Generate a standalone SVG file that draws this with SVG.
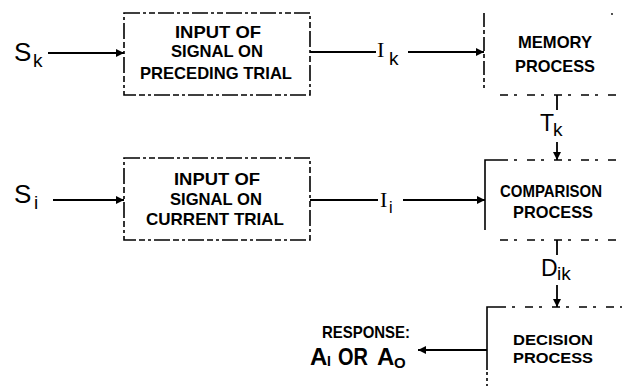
<svg xmlns="http://www.w3.org/2000/svg" width="622" height="386" viewBox="0 0 622 386">
<style>
.bx{fill:none;stroke:#000;stroke-width:1.6;stroke-dasharray:16 3 3 3 6 3}
.ed{fill:none;stroke:#000;stroke-width:1.6}
.dsh{fill:none;stroke:#000;stroke-width:1.6;stroke-dasharray:8 6 3 10}
.ln{fill:none;stroke:#000;stroke-width:1.8}
.lb{font-family:"Liberation Sans",Arial,sans-serif;font-weight:700;font-size:17px;text-anchor:middle;fill:#000}
.sm{font-size:15px}
.sy{font-family:"Liberation Sans",Arial,sans-serif;fill:#000}
.sf{font-family:"Liberation Serif","Times New Roman",serif;fill:#000}
</style>
<defs>
<marker id="ah" viewBox="0 0 10 10" refX="10" refY="5" markerWidth="10" markerHeight="8" markerUnits="userSpaceOnUse" orient="auto">
<path d="M0,0 L10,5 L0,10 z" fill="#000"/>
</marker>
</defs>
<rect width="622" height="386" fill="#fff"/>

<g id="sk">
<text class="sy" x="14" y="61" font-size="26">S</text><text class="sy" x="33" y="67" font-size="19">k</text>
</g>
<g id="si">
<text class="sy" x="14" y="203" font-size="26">S</text><text class="sy" x="34" y="209" font-size="19">i</text>
</g>

<g id="input-preceding">
<rect class="bx" x="124" y="13" width="186" height="82"/>
<text class="lb" x="218" y="38" textLength="86" lengthAdjust="spacingAndGlyphs">INPUT OF</text>
<text class="lb" x="217" y="57" textLength="92" lengthAdjust="spacingAndGlyphs">SIGNAL ON</text>
<text class="lb" x="216" y="79" textLength="152" lengthAdjust="spacingAndGlyphs">PRECEDING TRIAL</text>
</g>

<g id="input-current">
<rect class="bx" x="124" y="158" width="186" height="82"/>
<text class="lb" x="217" y="185" textLength="86" lengthAdjust="spacingAndGlyphs">INPUT OF</text>
<text class="lb" x="216" y="205" textLength="92" lengthAdjust="spacingAndGlyphs">SIGNAL ON</text>
<text class="lb" x="215" y="225" textLength="138" lengthAdjust="spacingAndGlyphs">CURRENT TRIAL</text>
</g>

<g id="memory">
<path class="ed" d="M484,13 V88" stroke-dasharray="14 3 4 3"/>
<path class="dsh" d="M500,95 H622"/>
<circle cx="612" cy="14" r="0.9" fill="#000"/>
<text class="lb" x="555" y="48" textLength="74" lengthAdjust="spacingAndGlyphs">MEMORY</text>
<text class="lb" x="555" y="72" textLength="80" lengthAdjust="spacingAndGlyphs">PROCESS</text>
</g>

<g id="comparison">
<path class="ed" d="M485,230 V160 H500"/>
<path class="dsh" d="M500,160 H622"/>
<path class="dsh" d="M500,240 H622"/>
<text class="lb" x="551" y="197" textLength="102" lengthAdjust="spacingAndGlyphs">COMPARISON</text>
<text class="lb" x="553" y="218" textLength="80" lengthAdjust="spacingAndGlyphs">PROCESS</text>
</g>

<g id="decision">
<path class="ed" d="M487,370 V307 H498"/>
<path class="ed" d="M487,372 V386" stroke-dasharray="3 3"/>
<path class="dsh" d="M498,307 H622"/>
<text class="lb sm" x="553" y="345" textLength="80" lengthAdjust="spacingAndGlyphs">DECISION</text>
<text class="lb sm" x="553" y="363" textLength="80" lengthAdjust="spacingAndGlyphs">PROCESS</text>
</g>

<g id="response">
<text class="lb" x="366" y="338" textLength="88" lengthAdjust="spacingAndGlyphs">RESPONSE:</text>
<text class="sy" x="310" y="365" font-size="24" font-weight="700">A</text><text class="sy" x="327" y="366" font-size="14" font-weight="700">I</text>
<text class="sy" x="338" y="365" font-size="24" font-weight="700" textLength="30" lengthAdjust="spacingAndGlyphs">OR</text>
<text class="sy" x="377" y="365" font-size="24" font-weight="700">A</text><text class="sy" x="394" y="368" font-size="15" font-weight="700">O</text>
</g>

<g id="connectors">
<path class="ln" d="M48,53 H124" marker-end="url(#ah)"/>
<path class="ln" d="M310,52 H376"/>
<text class="sf" x="377" y="57" font-size="22">I</text><text class="sy" x="389" y="65" font-size="19">k</text>
<path class="ln" d="M408,52 H484" marker-end="url(#ah)"/>

<path class="ln" d="M53,200 H124" marker-end="url(#ah)"/>
<path class="ln" d="M310,200 H378"/>
<text class="sf" x="380" y="207" font-size="22">I</text><text class="sy" x="389" y="213" font-size="16">i</text>
<path class="ln" d="M403,200 H485" marker-end="url(#ah)"/>

<path class="ln" d="M557,95 V110"/>
<text class="sy" x="540" y="131" font-size="23">T</text><text class="sy" x="553" y="136" font-size="19">k</text>
<path class="ln" d="M557,142 V160" marker-end="url(#ah)"/>

<path class="ln" d="M557,240 V255"/>
<text class="sy" x="541" y="276" font-size="23">D</text><text class="sy" x="557" y="280" font-size="19">ik</text>
<path class="ln" d="M557,285 V307" marker-end="url(#ah)"/>

<path class="ln" d="M487,350 H418" marker-end="url(#ah)"/>
</g>
</svg>
